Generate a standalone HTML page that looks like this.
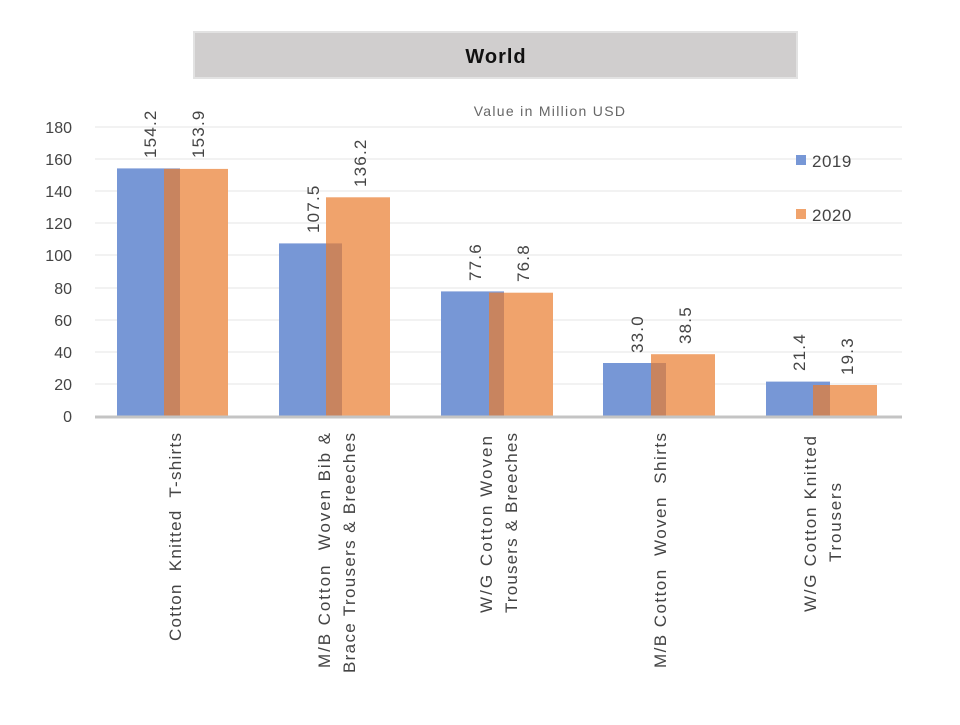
<!DOCTYPE html>
<html><head><style>body{margin:0;background:#fff}text{white-space:pre}</style></head><body>
<svg width="960" height="720" xmlns="http://www.w3.org/2000/svg" font-family="Liberation Sans, sans-serif" xml:space="preserve">
<rect x="194" y="32" width="603" height="46" fill="#d0cece" stroke="#e2e2e2" stroke-width="2"/>
<text x="496" y="63" font-size="20" font-weight="bold" text-anchor="middle" fill="#111" letter-spacing="1">World</text>
<text x="550" y="116" font-size="14" text-anchor="middle" fill="#666" letter-spacing="1.3">Value in Million USD</text>
<g stroke="#e6e6e6" stroke-width="1">
<line x1="95" x2="902" y1="127" y2="127"/><line x1="95" x2="902" y1="159" y2="159"/><line x1="95" x2="902" y1="191" y2="191"/><line x1="95" x2="902" y1="223" y2="223"/><line x1="95" x2="902" y1="255" y2="255"/><line x1="95" x2="902" y1="288" y2="288"/><line x1="95" x2="902" y1="320" y2="320"/><line x1="95" x2="902" y1="352" y2="352"/><line x1="95" x2="902" y1="384" y2="384"/>
</g>
<g font-size="16" fill="#444" text-anchor="end">
<text x="72" y="133">180</text><text x="72" y="165">160</text><text x="72" y="197">140</text><text x="72" y="229">120</text><text x="72" y="261">100</text><text x="72" y="294">80</text><text x="72" y="326">60</text><text x="72" y="358">40</text><text x="72" y="390">20</text><text x="72" y="422">0</text>
</g>
<g>
<rect x="117" y="168.4" width="63" height="247.6" fill="#7797d6"/><rect x="164" y="168.9" width="64" height="247.1" fill="#f0a36c"/><rect x="164" y="168.9" width="16" height="247.1" fill="#c8845f"/>
<rect x="279" y="243.4" width="63" height="172.6" fill="#7797d6"/><rect x="326" y="197.3" width="64" height="218.7" fill="#f0a36c"/><rect x="326" y="243.4" width="16" height="172.6" fill="#c8845f"/>
<rect x="441" y="291.4" width="63" height="124.6" fill="#7797d6"/><rect x="489" y="292.7" width="64" height="123.3" fill="#f0a36c"/><rect x="489" y="292.7" width="15" height="123.3" fill="#c8845f"/>
<rect x="603" y="363" width="63" height="53" fill="#7797d6"/><rect x="651" y="354.2" width="64" height="61.8" fill="#f0a36c"/><rect x="651" y="363" width="15" height="53" fill="#c8845f"/>
<rect x="766" y="381.6" width="64" height="34.4" fill="#7797d6"/><rect x="813" y="385" width="64" height="31" fill="#f0a36c"/><rect x="813" y="385" width="17" height="31" fill="#c8845f"/>
</g>
<line x1="95" x2="902" y1="417" y2="417" stroke="#c4c4c4" stroke-width="3"/>
<g font-size="17" fill="#444" letter-spacing="1.2">
<text transform="translate(156,158) rotate(-90)">154.2</text>
<text transform="translate(204,158) rotate(-90)">153.9</text>
<text transform="translate(319,233) rotate(-90)">107.5</text>
<text transform="translate(366,187) rotate(-90)">136.2</text>
<text transform="translate(481,281) rotate(-90)">77.6</text>
<text transform="translate(529,282) rotate(-90)">76.8</text>
<text transform="translate(643,353) rotate(-90)">33.0</text>
<text transform="translate(691,344) rotate(-90)">38.5</text>
<text transform="translate(805,371) rotate(-90)">21.4</text>
<text transform="translate(853,375) rotate(-90)">19.3</text>
</g>
<rect x="796" y="155" width="10" height="10" fill="#7797d6"/><text x="812" y="167" font-size="17" fill="#444" letter-spacing="0.5">2019</text>
<rect x="796" y="209" width="10" height="10" fill="#f0a36c"/><text x="812" y="221" font-size="17" fill="#444" letter-spacing="0.5">2020</text>
<g font-size="17" fill="#444" text-anchor="end" letter-spacing="1">
<text transform="translate(181,432) rotate(-90)" textLength="209" lengthAdjust="spacing">Cotton  Knitted  T-shirts</text>
<text transform="translate(330,432) rotate(-90)" textLength="236" lengthAdjust="spacing">M/B Cotton  Woven Bib &amp;</text>
<text transform="translate(355,432) rotate(-90)" textLength="241" lengthAdjust="spacing">Brace Trousers &amp; Breeches</text>
<text transform="translate(492,435) rotate(-90)" textLength="178" lengthAdjust="spacing">W/G Cotton Woven</text>
<text transform="translate(517,432) rotate(-90)" textLength="181" lengthAdjust="spacing">Trousers &amp; Breeches</text>
<text transform="translate(666,432) rotate(-90)" textLength="236" lengthAdjust="spacing">M/B Cotton  Woven  Shirts</text>
<text transform="translate(816,435) rotate(-90)" textLength="177" lengthAdjust="spacing">W/G Cotton Knitted</text>
<text transform="translate(841,482) rotate(-90)" textLength="80" lengthAdjust="spacing">Trousers</text>
</g>
</svg>
</body></html>
